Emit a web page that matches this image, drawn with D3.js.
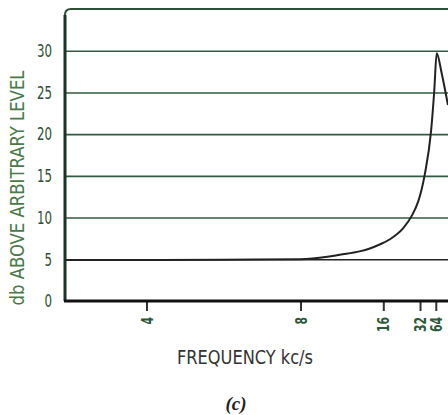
<!DOCTYPE html>
<html>
<head>
<meta charset="utf-8">
<script src="https://cdn.jsdelivr.net/npm/d3@7"></script>
<style>
  body { margin: 0; background: #fff; }
  svg { display: block; }
  .narrow { font-family: "Liberation Sans Narrow", "DejaVu Sans Condensed", "DejaVu Sans", sans-serif; font-stretch: condensed; }
</style>
</head>
<body>
<svg width="448" height="415"></svg>
<script>
// frequency (kc/s) and response (db)
var freq = [1.9, 4, 6, 8, 10.6, 11.8, 13.7, 14.7, 15.7, 18.9, 24.6, 28.4, 31.3, 35.4, 42.1, 54.3, 60.9, 65.8, 75.9, 86, 88.6];
var db   = [4.9, 4.9, 4.95, 5.0, 5.3, 5.55, 5.95, 6.3, 6.8, 7.4, 8.7, 10.2, 12.0, 13.4, 15.3, 20.3, 25.2, 29.7, 27.3, 24.3, 23.5];
var xTicks = [4, 8, 16, 32, 64];
var yTicks = [0, 5, 10, 15, 20, 25, 30];

var svg = d3.select('svg'),
  plotLeft = 65,
  plotRight = 448,
  plotTop = 9,
  plotBottom = 301;

// the printed frequency axis is not evenly spaced, so map it piece by piece
var x = d3.scaleLinear().domain(xTicks).range([146.5, 300.5, 383.3, 420, 435.8]);
var y = d3.scaleLinear().domain([0, 35]).range([plotBottom, plotTop]);

var green = '#2f5c40';

// horizontal rules + y labels
var gy = svg.append('g')
  .attr('transform', 'translate(' + plotLeft + ',0)')
  .call(d3.axisLeft(y).tickValues(yTicks).tickSize(-(plotRight - plotLeft)).tickPadding(13));
gy.select('.domain').remove();
gy.selectAll('.tick line')
  .style('stroke', function(d) { return d <= 5 ? '#222' : green; })
  .style('stroke-width', function(d) { return d == 0 ? 0 : 1.6; });
gy.selectAll('.tick text')
  .attr('class', 'narrow')
  .attr('textLength', function(d) { return String(d).length * 7.5; })
  .attr('lengthAdjust', 'spacingAndGlyphs')
  .style('font-size', '18px')
  .style('fill', '#2e4f38');

// frame: left side and top with the rounded corner
svg.append('path')
  .attr('d', 'M' + plotLeft + ',' + plotBottom + 'V' + (plotTop + 6) + 'Q' + plotLeft + ',' + plotTop + ' ' + (plotLeft + 6) + ',' + plotTop + 'H' + plotRight)
  .style('fill', 'none')
  .style('stroke', '#2a5035')
  .style('stroke-width', 2);
svg.append('line')
  .attr('x1', plotLeft).attr('x2', plotLeft)
  .attr('y1', plotTop + 6).attr('y2', plotBottom)
  .style('stroke', '#1d3326')
  .style('stroke-width', 3);

// bottom axis
var gx = svg.append('g')
  .attr('transform', 'translate(0,' + plotBottom + ')')
  .call(d3.axisBottom(x).tickValues(xTicks).tickSize(10).tickFormat(d3.format('d')));
gx.select('.domain').remove();
gx.selectAll('.tick line').style('stroke', '#333').style('stroke-width', 2);
gx.selectAll('.tick text')
  .attr('class', 'narrow')
  .attr('transform', 'translate(0,16) rotate(-90)')
  .attr('x', 0)
  .attr('y', 0)
  .attr('dy', '0.35em')
  .attr('textLength', function(d) { return String(d).length * 7.5; })
  .attr('lengthAdjust', 'spacingAndGlyphs')
  .style('text-anchor', 'end')
  .style('font-size', '16px')
  .style('font-weight', 'bold')
  .style('fill', '#2c5a38');
svg.append('line')
  .attr('x1', plotLeft - 1).attr('x2', plotRight)
  .attr('y1', plotBottom).attr('y2', plotBottom)
  .style('stroke', '#111')
  .style('stroke-width', 3);

// response curve
var line = d3.line()
  .x(function(d, i) { return x(freq[i]); })
  .y(function(d) { return y(d); })
  .curve(d3.curveMonotoneX);

svg.append('path')
  .datum(db)
  .attr('d', line)
  .style('fill', 'none')
  .style('stroke', '#222')
  .style('stroke-width', 2);

// titles
svg.append('text')
  .attr('class', 'narrow')
  .attr('transform', 'translate(24,188) rotate(-90)')
  .attr('text-anchor', 'middle')
  .attr('textLength', 235)
  .attr('lengthAdjust', 'spacingAndGlyphs')
  .style('font-size', '19px')
  .style('fill', '#4a7a4a')
  .text('db ABOVE ARBITRARY LEVEL');

svg.append('text')
  .attr('class', 'narrow')
  .attr('x', 245)
  .attr('y', 364)
  .attr('text-anchor', 'middle')
  .attr('textLength', 136)
  .attr('lengthAdjust', 'spacingAndGlyphs')
  .style('font-size', '19px')
  .style('fill', '#333')
  .text('FREQUENCY kc/s');

svg.append('text')
  .attr('x', 236)
  .attr('y', 410)
  .attr('text-anchor', 'middle')
  .style('font-family', '"Liberation Serif", serif')
  .style('font-style', 'italic')
  .style('font-weight', 'bold')
  .style('font-size', '19px')
  .style('fill', '#222')
  .text('(c)');
</script>
</body>
</html>
